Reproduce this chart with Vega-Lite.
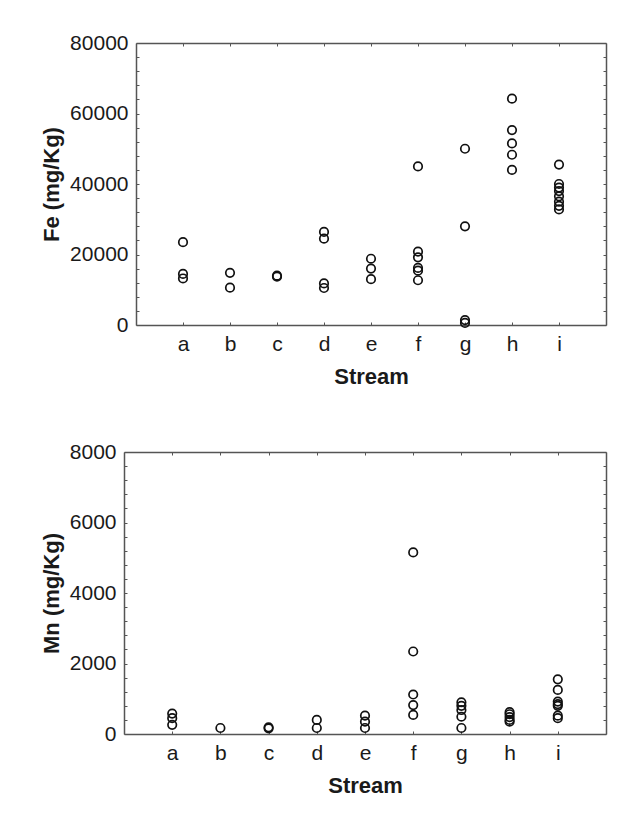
{
  "$schema": "https://vega.github.io/schema/vega-lite/v6.json",
  "background": "white",
  "padding": {"left": 40, "top": 32, "right": 5, "bottom": 5},
  "spacing": 54,
  "vconcat": [
    {
      "width": 482,
      "height": 282,
      "data": {
        "values": [
          {"stream": "a", "fe": 23500}, {"stream": "a", "fe": 14500}, {"stream": "a", "fe": 13200},
          {"stream": "b", "fe": 14800}, {"stream": "b", "fe": 10600},
          {"stream": "c", "fe": 14000}, {"stream": "c", "fe": 13700},
          {"stream": "d", "fe": 26400}, {"stream": "d", "fe": 24500}, {"stream": "d", "fe": 11800}, {"stream": "d", "fe": 10500},
          {"stream": "e", "fe": 18800}, {"stream": "e", "fe": 16000}, {"stream": "e", "fe": 13000},
          {"stream": "f", "fe": 45000}, {"stream": "f", "fe": 20800}, {"stream": "f", "fe": 19200}, {"stream": "f", "fe": 16200}, {"stream": "f", "fe": 15400}, {"stream": "f", "fe": 12700},
          {"stream": "g", "fe": 50000}, {"stream": "g", "fe": 28000}, {"stream": "g", "fe": 1400}, {"stream": "g", "fe": 600},
          {"stream": "h", "fe": 64200}, {"stream": "h", "fe": 55300}, {"stream": "h", "fe": 51500}, {"stream": "h", "fe": 48300}, {"stream": "h", "fe": 44000},
          {"stream": "i", "fe": 45500}, {"stream": "i", "fe": 40000}, {"stream": "i", "fe": 39000}, {"stream": "i", "fe": 38000}, {"stream": "i", "fe": 36500}, {"stream": "i", "fe": 35000}, {"stream": "i", "fe": 33800}, {"stream": "i", "fe": 32800}
        ]
      },
      "layer": [
        {
          "mark": {"type": "point", "shape": "circle", "filled": false, "color": "#111", "size": 72, "strokeWidth": 1.7, "opacity": 1},
          "encoding": {
            "x": {"field": "stream", "type": "nominal", "scale": {"type": "point", "padding": 1, "range": [12, 482]},
              "axis": {"orient": "bottom", "title": "Stream", "labelAngle": 0, "titlePadding": 12}},
            "y": {"field": "fe", "type": "quantitative", "scale": {"domain": [0, 80000], "nice": false, "zero": true},
              "axis": {"orient": "left", "offset": -12, "title": "Fe (mg/Kg)", "format": "d", "titlePadding": 6,
                "values": [0, 4000, 8000, 12000, 16000, 20000, 24000, 28000, 32000, 36000, 40000, 44000, 48000, 52000, 56000, 60000, 64000, 68000, 72000, 76000, 80000],
                "labelExpr": "datum.value % 20000 == 0 ? datum.label : ''"}}
          }
        },
        {
          "mark": {"type": "point", "opacity": 0},
          "encoding": {
            "x": {"field": "stream", "type": "nominal",
              "axis": {"orient": "top", "title": null, "labels": false}},
            "y": {"field": "fe", "type": "quantitative",
              "axis": {"orient": "right", "title": null, "labels": false,
                "values": [0, 4000, 8000, 12000, 16000, 20000, 24000, 28000, 32000, 36000, 40000, 44000, 48000, 52000, 56000, 60000, 64000, 68000, 72000, 76000, 80000]}}
          }
        }
      ],
      "resolve": {"axis": {"x": "independent", "y": "independent"}}
    },
    {
      "width": 482,
      "height": 282,
      "data": {
        "values": [
          {"stream": "a", "mn": 580}, {"stream": "a", "mn": 450}, {"stream": "a", "mn": 260},
          {"stream": "b", "mn": 170},
          {"stream": "c", "mn": 190}, {"stream": "c", "mn": 160},
          {"stream": "d", "mn": 400}, {"stream": "d", "mn": 170},
          {"stream": "e", "mn": 520}, {"stream": "e", "mn": 350}, {"stream": "e", "mn": 170},
          {"stream": "f", "mn": 5150}, {"stream": "f", "mn": 2340}, {"stream": "f", "mn": 1120}, {"stream": "f", "mn": 820}, {"stream": "f", "mn": 540},
          {"stream": "g", "mn": 900}, {"stream": "g", "mn": 800}, {"stream": "g", "mn": 680}, {"stream": "g", "mn": 490}, {"stream": "g", "mn": 170},
          {"stream": "h", "mn": 620}, {"stream": "h", "mn": 560}, {"stream": "h", "mn": 480}, {"stream": "h", "mn": 400}, {"stream": "h", "mn": 350},
          {"stream": "i", "mn": 1550}, {"stream": "i", "mn": 1250}, {"stream": "i", "mn": 920}, {"stream": "i", "mn": 850}, {"stream": "i", "mn": 800}, {"stream": "i", "mn": 520}, {"stream": "i", "mn": 450}
        ]
      },
      "layer": [
        {
          "mark": {"type": "point", "shape": "circle", "filled": false, "color": "#111", "size": 72, "strokeWidth": 1.7, "opacity": 1},
          "encoding": {
            "x": {"field": "stream", "type": "nominal", "scale": {"type": "point", "padding": 1},
              "axis": {"orient": "bottom", "title": "Stream", "labelAngle": 0, "titlePadding": 12}},
            "y": {"field": "mn", "type": "quantitative", "scale": {"domain": [0, 8000], "nice": false, "zero": true},
              "axis": {"orient": "left", "title": "Mn (mg/Kg)", "format": "d", "titlePadding": 6,
                "values": [0, 400, 800, 1200, 1600, 2000, 2400, 2800, 3200, 3600, 4000, 4400, 4800, 5200, 5600, 6000, 6400, 6800, 7200, 7600, 8000],
                "labelExpr": "datum.value % 2000 == 0 ? datum.label : ''"}}
          }
        },
        {
          "mark": {"type": "point", "opacity": 0},
          "encoding": {
            "x": {"field": "stream", "type": "nominal",
              "axis": {"orient": "top", "title": null, "labels": false}},
            "y": {"field": "mn", "type": "quantitative",
              "axis": {"orient": "right", "title": null, "labels": false,
                "values": [0, 400, 800, 1200, 1600, 2000, 2400, 2800, 3200, 3600, 4000, 4400, 4800, 5200, 5600, 6000, 6400, 6800, 7200, 7600, 8000]}}
          }
        }
      ],
      "resolve": {"axis": {"x": "independent", "y": "independent"}}
    }
  ],
  "config": {
    "font": "Liberation Sans",
    "view": {"stroke": null},
    "axis": {
      "domain": true,
      "domainColor": "#555",
      "domainWidth": 1.5,
      "grid": false,
      "ticks": true,
      "tickSize": -3,
      "tickColor": "#555",
      "tickWidth": 1,
      "labelFontSize": 21,
      "labelColor": "#1a1a1a",
      "labelPadding": 11,
      "titleFontSize": 22,
      "titleFontWeight": "bold",
      "titleColor": "#1a1a1a"
    }
  }
}
